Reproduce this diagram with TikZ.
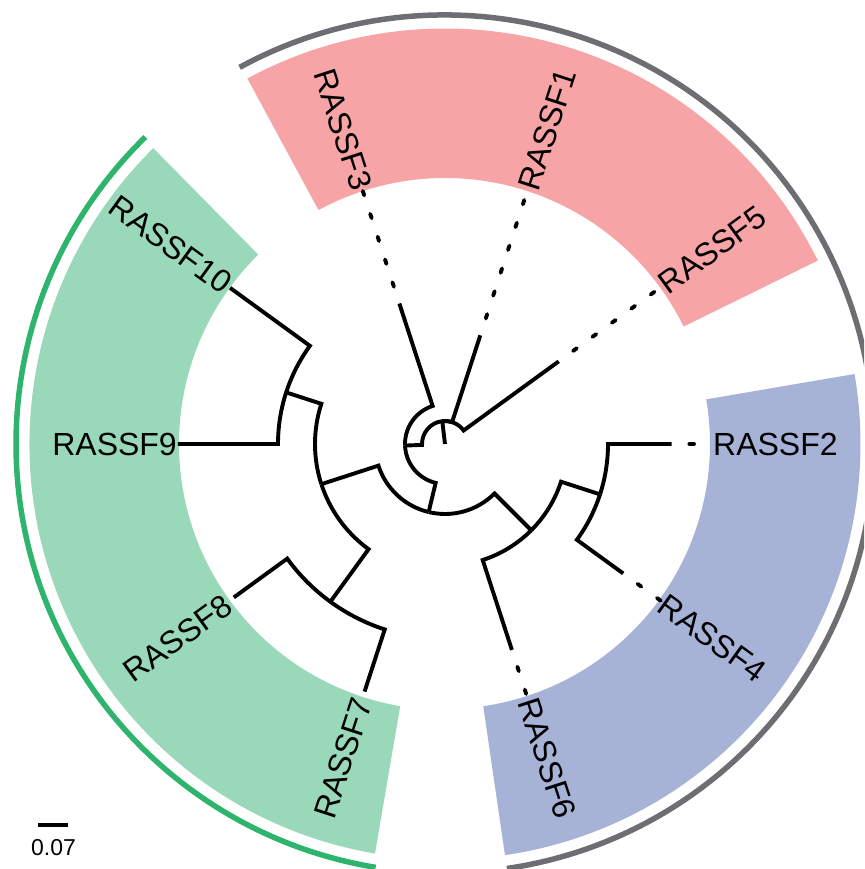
\documentclass[tikz,border=0pt]{standalone}
\usepackage{fontspec}
\setmainfont{Liberation Sans}
\definecolor{pinkband}{RGB}{247,164,167}
\definecolor{greenband}{RGB}{153,216,185}
\definecolor{blueband}{RGB}{166,179,214}
\definecolor{grayarc}{RGB}{109,110,113}
\definecolor{greenarc}{RGB}{46,180,108}
\begin{document}
\begin{tikzpicture}[
  edge/.style={line width=3.9pt, line cap=butt, line join=miter, black},
  leader/.style={line width=3.9pt, line cap=round, black, dash pattern=on 4.6pt off 19.4pt, dash phase=6.3pt},
  lab/.style={inner sep=0pt, font=\fontsize{32pt}{32pt}\selectfont},
  cladearc/.style={line width=5.5pt}
]
\useasboundingbox (-445pt,-425pt) rectangle (419pt,444pt);
\clip (-445pt,-425pt) rectangle (419pt,444pt);

% highlight bands
\fill[pinkband] (26.2:266pt) arc[start angle=26.2,end angle=118.4,radius=266pt] -- (118.4:415.5pt) arc[start angle=118.4,end angle=26.2,radius=415.5pt] -- cycle;
\fill[blueband] (-81.7:265pt) arc[start angle=-81.7,end angle=9.7,radius=265pt] -- (9.7:415.5pt) arc[start angle=9.7,end angle=-81.7,radius=415.5pt] -- cycle;
\fill[greenband] (134.6:266pt) arc[start angle=134.6,end angle=260.3,radius=266pt] -- (260.3:415.5pt) arc[start angle=260.3,end angle=134.6,radius=415.5pt] -- cycle;

% clade arcs
\draw[cladearc, grayarc] (118.6:429pt) arc[start angle=118.6,end angle=-81.7,radius=429pt];
\draw[cladearc, greenarc] (134.3:429pt) arc[start angle=134.3,end angle=260.7,radius=429pt];

% tree nodes
\coordinate (ctr) at (0pt,0pt);
\coordinate (root) at (96.75:23pt);
\coordinate (nA) at (182.25:40pt);
\coordinate (nB) at (256.5:70pt);
\coordinate (g3) at (198:130pt);
\coordinate (p910) at (162:167pt);
\coordinate (p78) at (234:195pt);
\coordinate (p246) at (-45:122pt);
\coordinate (p24) at (-18:163pt);
% tips
\coordinate (t1) at (72:114.3pt);
\coordinate (t5) at (36:140.6pt);
\coordinate (t3) at (108:147.7pt);
\coordinate (t10) at (144:265.6pt);
\coordinate (t9) at (180:267pt);
\coordinate (t8) at (216:261pt);
\coordinate (t7) at (252:260.3pt);
\coordinate (t6) at (288:216.5pt);
\coordinate (t4) at (324:220.3pt);
\coordinate (t2) at (0:226.7pt);
% label points
\coordinate (e1) at (72:268pt);
\coordinate (e5) at (36:268pt);
\coordinate (e3) at (108:268pt);
\coordinate (e10) at (144:268pt);
\coordinate (e9) at (180:268pt);
\coordinate (e8) at (216:268pt);
\coordinate (e7) at (252:268pt);
\coordinate (e6) at (288:268pt);
\coordinate (e4) at (324:268pt);
\coordinate (e2) at (0:268pt);

% edges
\draw[edge] (ctr) -- (root);
\draw[edge] (root) arc[start angle=96.75,end angle=182.25,radius=23pt] -- (nA);
\draw[edge] (root) arc[start angle=96.75,end angle=72,radius=23pt] -- (t1);
\draw[edge] (root) arc[start angle=96.75,end angle=36,radius=23pt] -- (t5);
\draw[edge] (nA) arc[start angle=182.25,end angle=108,radius=40pt] -- (t3);
\draw[edge] (nA) arc[start angle=182.25,end angle=256.5,radius=40pt] -- (nB);
\draw[edge] (nB) arc[start angle=256.5,end angle=198,radius=70pt] -- (g3);
\draw[edge] (nB) arc[start angle=256.5,end angle=315,radius=70pt] -- (p246);
\draw[edge] (g3) arc[start angle=198,end angle=162,radius=130pt] -- (p910);
\draw[edge] (g3) arc[start angle=198,end angle=234,radius=130pt] -- (p78);
\draw[edge] (p910) arc[start angle=162,end angle=144,radius=167pt] -- (t10);
\draw[edge] (p910) arc[start angle=162,end angle=180,radius=167pt] -- (t9);
\draw[edge] (p78) arc[start angle=234,end angle=216,radius=195pt] -- (t8);
\draw[edge] (p78) arc[start angle=234,end angle=252,radius=195pt] -- (t7);
\draw[edge] (p246) arc[start angle=-45,end angle=-18,radius=122pt] -- (p24);
\draw[edge] (p246) arc[start angle=-45,end angle=-72,radius=122pt] -- (t6);
\draw[edge] (p24) arc[start angle=-18,end angle=0,radius=163pt] -- (t2);
\draw[edge] (p24) arc[start angle=-18,end angle=-36,radius=163pt] -- (t4);

% dotted leaders
\draw[leader] (t1) -- (e1);
\draw[leader] (t5) -- (e5);
\draw[leader] (t3) -- (e3);
\draw[leader] (t2) -- (e2);
\draw[leader] (t4) -- (e4);
\draw[leader] (t6) -- (e6);

% labels
\node[lab, anchor=west, rotate=0] (l2) at (e2) {RASSF2};
\node[lab, anchor=west, rotate=36] (l5) at (e5) {RASSF5};
\node[lab, anchor=west, rotate=72] (l1) at (e1) {RASSF1};
\node[lab, anchor=east, rotate=-72] (l3) at (e3) {RASSF3};
\node[lab, anchor=east, rotate=-36] (l10) at (e10) {RASSF10};
\node[lab, anchor=east, rotate=0] (l9) at (e9) {RASSF9};
\node[lab, anchor=east, rotate=36] (l8) at (e8) {RASSF8};
\node[lab, anchor=east, rotate=72] (l7) at (e7) {RASSF7};
\node[lab, anchor=west, rotate=-72] (l6) at (e6) {RASSF6};
\node[lab, anchor=west, rotate=-36] (l4) at (e4) {RASSF4};

% scale bar
\coordinate (sb1) at (-406.7pt,-381pt);
\coordinate (sb2) at (-376.7pt,-381pt);
\draw[line width=4pt] (sb1) -- (sb2);
\node[inner sep=0pt, font=\fontsize{23pt}{23pt}\selectfont] (sbl) at (-391.5pt,-404pt) {0.07};
\end{tikzpicture}
\end{document}
